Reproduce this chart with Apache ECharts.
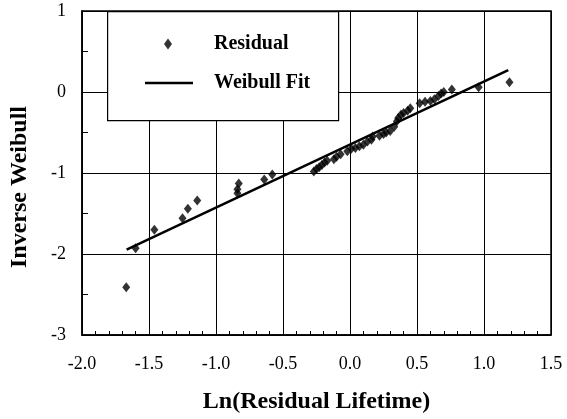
<!DOCTYPE html>
<html>
<head>
<meta charset="utf-8">
<script src="https://cdn.jsdelivr.net/npm/echarts@6/dist/echarts.min.js"></script>
<style>
html,body{margin:0;padding:0;background:#fff;}
#chart{width:567px;height:419px;}
</style>
</head>
<body>
<div id="chart"></div>
<script>
// Residual points: ln(residual lifetime) vs inverse Weibull
const residualX = [-1.67,-1.60,-1.46,-1.25,-1.21,-1.14,-0.84,-0.84,-0.83,-0.64,-0.58,
  -0.27,-0.25,-0.23,-0.21,-0.19,-0.17,-0.12,-0.10,-0.07,-0.02,0.01,0.04,0.07,0.10,0.13,0.16,0.17,
  0.22,0.25,0.27,0.30,0.33,0.35,0.36,0.38,0.40,0.43,0.45,0.52,0.56,0.60,0.63,0.66,0.68,0.70,0.76,0.96,1.19];
const residualY = [-2.41,-1.93,-1.70,-1.56,-1.44,-1.34,-1.25,-1.20,-1.13,-1.08,-1.02,
  -0.98,-0.95,-0.93,-0.90,-0.87,-0.85,-0.83,-0.80,-0.77,-0.73,-0.70,-0.69,-0.67,-0.65,-0.61,-0.59,-0.55,
  -0.54,-0.52,-0.50,-0.48,-0.43,-0.36,-0.32,-0.28,-0.26,-0.23,-0.20,-0.14,-0.12,-0.11,-0.09,-0.05,-0.02,0.00,0.03,0.06,0.12];
// Weibull fit line end points
const fitX = [-1.667, 1.181];
const fitY = [-1.946, 0.271];
const xTicks = [-2.0,-1.5,-1.0,-0.5,0.0,0.5,1.0,1.5];
const yTicks = [-3,-2,-1,0,1];
const seriesNames = ['Residual','Weibull Fit'];

const font = 'Liberation Serif, Times New Roman, serif';
const chart = echarts.init(document.getElementById('chart'));
chart.setOption({
  animation: false,
  backgroundColor: '#fff',
  grid: {left: 82, right: 16, top: 11, bottom: 84, show: true, borderColor: '#000', borderWidth: 1.5, backgroundColor: 'transparent'},
  graphic: [{
    type: 'rect', z: 3, left: 107, top: 11,
    shape: {width: 231, height: 109},
    style: {fill: '#fff', stroke: '#000', lineWidth: 1.2}
  }],
  legend: [
    {data: [{name: seriesNames[0], icon: 'diamond'}], left: 164, top: 34, itemWidth: 8, itemHeight: 11, padding: 0, z: 5,
     itemStyle: {color: '#000'},
     textStyle: {fontFamily: font, fontWeight: 'bold', fontSize: 20, color: '#000', padding: [0,0,0,37]}},
    {data: [{name: seriesNames[1], icon: 'rect'}], left: 145, top: 73, itemWidth: 48, itemHeight: 2.5, padding: 0, z: 5,
     itemStyle: {color: '#000'},
     textStyle: {fontFamily: font, fontWeight: 'bold', fontSize: 20, color: '#000', padding: [0,0,0,16]}}
  ],
  xAxis: {
    type: 'value', min: xTicks[0], max: xTicks[xTicks.length-1], interval: 0.5,
    name: 'Ln(Residual Lifetime)', nameLocation: 'middle', nameGap: 55,
    nameTextStyle: {fontFamily: font, fontWeight: 'bold', fontSize: 24, color: '#000'},
    axisLine: {show: true, onZero: false, lineStyle: {color: '#000', width: 1.5}},
    axisTick: {show: true, inside: true, length: 6, lineStyle: {color: '#000'}},
    minorTick: {show: true, splitNumber: 5, length: 4, lineStyle: {color: '#000'}},
    splitLine: {show: true, lineStyle: {color: '#000', width: 1}},
    axisLabel: {fontFamily: font, fontSize: 18, color: '#000', margin: 20, formatter: v => v.toFixed(1)}
  },
  yAxis: {
    type: 'value', min: yTicks[0], max: yTicks[yTicks.length-1], interval: 1,
    name: 'Inverse Weibull', nameLocation: 'middle', nameGap: 50,
    nameTextStyle: {fontFamily: font, fontWeight: 'bold', fontSize: 24, color: '#000', padding: [0, 28, 0, 0]},
    axisLine: {show: true, onZero: false, lineStyle: {color: '#000', width: 1.5}},
    axisTick: {show: true, inside: true, length: 6, lineStyle: {color: '#000'}},
    minorTick: {show: true, splitNumber: 2, length: 6, lineStyle: {color: '#000'}},
    splitLine: {show: true, lineStyle: {color: '#000', width: 1}},
    axisLabel: {fontFamily: font, fontSize: 18, color: '#000', margin: 16}
  },
  series: [
    {name: seriesNames[0], type: 'scatter', symbol: 'diamond', symbolSize: [8, 10], z: 4,
     itemStyle: {color: '#000'},
     data: residualX.map((x, i) => [x, residualY[i]])},
    {name: seriesNames[1], type: 'line', symbol: 'none', z: 3,
     lineStyle: {color: '#000', width: 2.5},
     itemStyle: {color: '#000'},
     data: fitX.map((x, i) => [x, fitY[i]])}
  ]
});
</script>
</body>
</html>
